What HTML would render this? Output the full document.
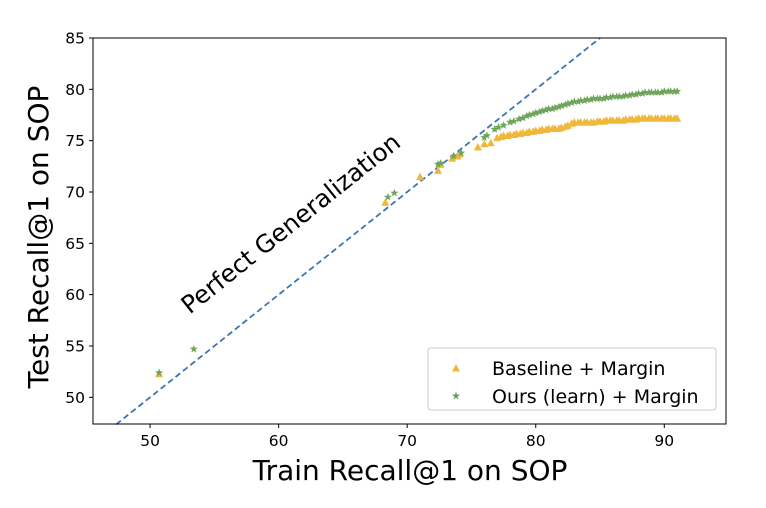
<!DOCTYPE html>
<html><head><meta charset="utf-8"><style>
body{margin:0;background:#fff;font-family:"DejaVu Sans","Liberation Sans",sans-serif}
</style></head><body>
<svg id="chart" width="766" height="504" xmlns="http://www.w3.org/2000/svg" font-family="DejaVu Sans, Liberation Sans, sans-serif">
<g id="plot"></g>
</svg>
<script>
const xTicks=[50,60,70,80,90];
const yTicks=[50,55,60,65,70,75,80,85];
const baseX=[50.7,68.3,71.0,72.4,72.6,73.5,73.9,74.1,75.5,76,76.5,77,77.3,77.5,77.8,78,78.3,78.5,78.8,79,79.3,79.5,79.8,80,80.3,80.5,80.8,81,81.3,81.5,81.8,82,82.3,82.5,82.8,83,83.3,83.5,83.8,84,84.3,84.5,84.8,85,85.3,85.5,85.8,86,86.3,86.5,86.8,87,87.3,87.5,87.8,88,88.3,88.5,88.8,89,89.3,89.5,89.8,90,90.3,90.5,90.8,91];
const baseY=[52.3,69.0,71.5,72.1,72.7,73.3,73.5,73.7,74.4,74.7,74.8,75.3,75.4,75.5,75.5,75.6,75.6,75.7,75.7,75.8,75.8,75.9,75.9,76.0,76.0,76.1,76.1,76.2,76.2,76.2,76.2,76.3,76.4,76.5,76.7,76.8,76.8,76.8,76.8,76.8,76.8,76.8,76.9,76.9,76.9,77.0,77.0,77.0,77.0,77.0,77.0,77.1,77.1,77.1,77.1,77.2,77.2,77.2,77.2,77.2,77.2,77.2,77.2,77.2,77.2,77.2,77.2,77.2];
const oursX=[50.7,53.4,68.5,69,72.4,72.6,73.6,74.2,76,76.2,76.8,77.1,77.5,78,78.3,78.7,79,79.3,79.5,79.8,80,80.3,80.5,80.8,81,81.3,81.5,81.8,82,82.3,82.5,82.8,83,83.3,83.5,83.8,84,84.3,84.5,84.8,85,85.3,85.5,85.8,86,86.3,86.5,86.8,87,87.3,87.5,87.8,88,88.3,88.5,88.8,89,89.3,89.5,89.8,90,90.3,90.5,90.8,91];
const oursY=[52.4,54.7,69.5,69.9,72.7,72.8,73.5,73.8,75.3,75.5,76.1,76.3,76.5,76.8,76.9,77.1,77.2,77.4,77.5,77.6,77.7,77.8,77.9,78.0,78.1,78.1,78.2,78.3,78.4,78.5,78.6,78.7,78.8,78.8,78.9,78.9,79.0,79.0,79.1,79.1,79.1,79.1,79.2,79.2,79.3,79.3,79.3,79.3,79.4,79.4,79.5,79.5,79.6,79.6,79.7,79.7,79.7,79.7,79.7,79.7,79.8,79.8,79.8,79.8,79.8];
const L=93,R=726,T=38,B=424;
const xMin=45.56,xMax=94.8,yMin=47.4,yMax=85;
const sx=v=>L+(v-xMin)/(xMax-xMin)*(R-L);
const sy=v=>B-(v-yMin)/(yMax-yMin)*(B-T);
const NS="http://www.w3.org/2000/svg";
const g=document.getElementById('plot');
function mk(t,a,txt){const e=document.createElementNS(NS,t);for(const k in a)e.setAttribute(k,a[k]);if(txt!==undefined)e.textContent=txt;g.appendChild(e);return e;}
let ln=mk('line',{x1:sx(xMin+1.8),y1:sy(xMin+1.8),x2:sx(yMax),y2:sy(yMax),stroke:'#3a76b3','stroke-width':1.8,'stroke-dasharray':'6,3.5'});


let pg=mk('text',{x:0,y:0,'font-size':24.5,fill:'#000','text-anchor':'middle',transform:`translate(296,230) rotate(-38.6)`},'Perfect Generalization');


function tri(x,y,c){return mk('polygon',{points:`${x},${y-4} ${x-4},${y+3.5} ${x+4},${y+3.5}`,fill:c});}
function star(x,y,c){let p=[];for(let i=0;i<10;i++){const r=i%2?1.8:4.2;const a=-Math.PI/2+i*Math.PI/5;p.push((x+r*Math.cos(a)).toFixed(1)+','+(y+r*Math.sin(a)).toFixed(1));}return mk('polygon',{points:p.join(' '),fill:c});}
for(let i=0;i<baseX.length;i++){const e=tri(sx(baseX[i]),sy(baseY[i]),'#f0b83a');

}
for(let i=0;i<oursX.length;i++){const e=star(sx(oursX[i]),sy(oursY[i]),'#6fa55a');

}
let fr=mk('rect',{x:L,y:T,width:R-L,height:B-T,fill:'none',stroke:'#000','stroke-width':1});


for(const t of xTicks){const x=sx(t);mk('line',{x1:x,y1:B,x2:x,y2:B+4,stroke:'#000'});
const e=mk('text',{x:x,y:B+22,'font-size':15.5,'text-anchor':'middle'},t);

}
for(const t of yTicks){const y=sy(t);mk('line',{x1:L-4,y1:y,x2:L,y2:y,stroke:'#000'});
const e=mk('text',{x:L-8,y:y+5.5,'font-size':15.5,'text-anchor':'end'},t);

}
let xl=mk('text',{x:410,y:480,'font-size':28,'text-anchor':'middle'},'Train Recall@1 on SOP');


let yl=mk('text',{x:0,y:0,'font-size':28,'text-anchor':'middle',transform:'translate(48,237) rotate(-90)'},'Test Recall@1 on SOP');


let lg=mk('rect',{x:428,y:348,width:288,height:62,rx:3,fill:'#fff','fill-opacity':0.85,stroke:'#ccc'});


tri(456,368,'#f0b83a');
let l1=mk('text',{x:492,y:375,'font-size':19},'Baseline + Margin');


star(456,396,'#6fa55a');
let l2=mk('text',{x:492,y:403,'font-size':19},'Ours (learn) + Margin');


</script>
</body></html>
